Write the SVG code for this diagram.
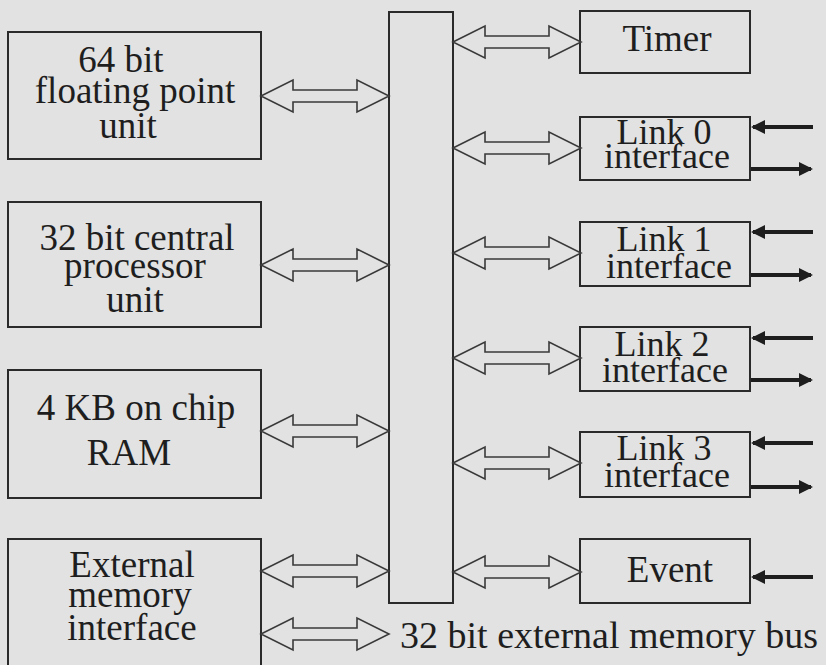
<svg xmlns="http://www.w3.org/2000/svg" width="826" height="665" viewBox="0 0 826 665">
<style>
  .bg{fill:#e2e2e2}
  .box{fill:none;stroke:#2a2a2a;stroke-width:2}
  .t{font-family:'Liberation Serif','Times New Roman',serif;font-size:37px;fill:#1e1e1e;text-anchor:middle}
  .s{font-size:36px}
  .b{font-size:38px}
  .dbl{fill:none;stroke:#3a3a3a;stroke-width:1.6}
  .sig{stroke:#1e1e1e;stroke-width:4;fill:none}
</style>
<defs>
  <path id="dbl" d="M0,0 L32,-16 L32,-6 L96,-6 L96,-16 L128,0 L96,16 L96,6 L32,6 L32,16 Z"/>
  <marker id="ah" markerUnits="userSpaceOnUse" viewBox="0 0 14 14" refX="12" refY="7" markerWidth="14" markerHeight="14" orient="auto">
    <path d="M0,0 L14,7 L0,14 Z" fill="#1e1e1e"/>
  </marker>
</defs>
<rect class="bg" x="0" y="0" width="826" height="665"/>

<g id="bus"><rect class="box" x="389" y="12" width="64" height="591"/></g>

<g id="fpu">
  <rect class="box" x="8" y="32" width="253" height="127"/>
  <text class="t" x="121" y="72">64 bit</text>
  <text class="t" x="135" y="103">floating point</text>
  <text class="t" x="128" y="138">unit</text>
</g>
<g id="cpu">
  <rect class="box" x="8" y="202" width="253" height="125"/>
  <text class="t" x="137" y="250">32 bit central</text>
  <text class="t" x="135" y="278">processor</text>
  <text class="t" x="135" y="312">unit</text>
</g>
<g id="ram">
  <rect class="box" x="8" y="370" width="253" height="128"/>
  <text class="t" x="136" y="420">4 KB on chip</text>
  <text class="t" x="129" y="465">RAM</text>
</g>
<g id="extmem">
  <rect class="box" x="8" y="539" width="253" height="140"/>
  <text class="t" x="132" y="577">External</text>
  <text class="t" x="130" y="607">memory</text>
  <text class="t" x="132" y="640">interface</text>
</g>

<g id="timer">
  <rect class="box" x="580" y="11" width="170" height="62"/>
  <text class="t" x="667" y="51">Timer</text>
</g>
<g id="link0">
  <rect class="box" x="580" y="117" width="170" height="63"/>
  <text class="t s" x="664" y="144">Link 0</text>
  <text class="t s" x="667" y="168">interface</text>
</g>
<g id="link1">
  <rect class="box" x="580" y="222" width="170" height="64"/>
  <text class="t s" x="664" y="251">Link 1</text>
  <text class="t s" x="669" y="278">interface</text>
</g>
<g id="link2">
  <rect class="box" x="580" y="327" width="170" height="64"/>
  <text class="t s" x="662" y="356">Link 2</text>
  <text class="t s" x="665" y="382">interface</text>
</g>
<g id="link3">
  <rect class="box" x="580" y="432" width="170" height="65"/>
  <text class="t s" x="664" y="460">Link 3</text>
  <text class="t s" x="667" y="487">interface</text>
</g>
<g id="event">
  <rect class="box" x="580" y="539" width="170" height="64"/>
  <text class="t" x="670" y="582">Event</text>
</g>

<g id="buslabel">
  <text class="t b" x="609" y="648">32 bit external memory bus</text>
</g>

<g id="connectors">
  <use href="#dbl" class="dbl" transform="translate(261,96)"/>
  <use href="#dbl" class="dbl" transform="translate(261,265)"/>
  <use href="#dbl" class="dbl" transform="translate(261,431)"/>
  <use href="#dbl" class="dbl" transform="translate(261,571)"/>
  <use href="#dbl" class="dbl" transform="translate(261,634)"/>
  <use href="#dbl" class="dbl" transform="translate(453,42)"/>
  <use href="#dbl" class="dbl" transform="translate(453,148)"/>
  <use href="#dbl" class="dbl" transform="translate(453,253)"/>
  <use href="#dbl" class="dbl" transform="translate(453,358)"/>
  <use href="#dbl" class="dbl" transform="translate(453,463)"/>
  <use href="#dbl" class="dbl" transform="translate(453,572)"/>

  <line class="sig" x1="813" y1="127" x2="753" y2="127" marker-end="url(#ah)"/>
  <line class="sig" x1="751" y1="169" x2="811" y2="169" marker-end="url(#ah)"/>
  <line class="sig" x1="813" y1="232" x2="753" y2="232" marker-end="url(#ah)"/>
  <line class="sig" x1="751" y1="275" x2="811" y2="275" marker-end="url(#ah)"/>
  <line class="sig" x1="813" y1="338" x2="753" y2="338" marker-end="url(#ah)"/>
  <line class="sig" x1="751" y1="380" x2="811" y2="380" marker-end="url(#ah)"/>
  <line class="sig" x1="813" y1="443" x2="753" y2="443" marker-end="url(#ah)"/>
  <line class="sig" x1="751" y1="487" x2="811" y2="487" marker-end="url(#ah)"/>
  <line class="sig" x1="813" y1="577" x2="753" y2="577" marker-end="url(#ah)"/>
</g>
</svg>
